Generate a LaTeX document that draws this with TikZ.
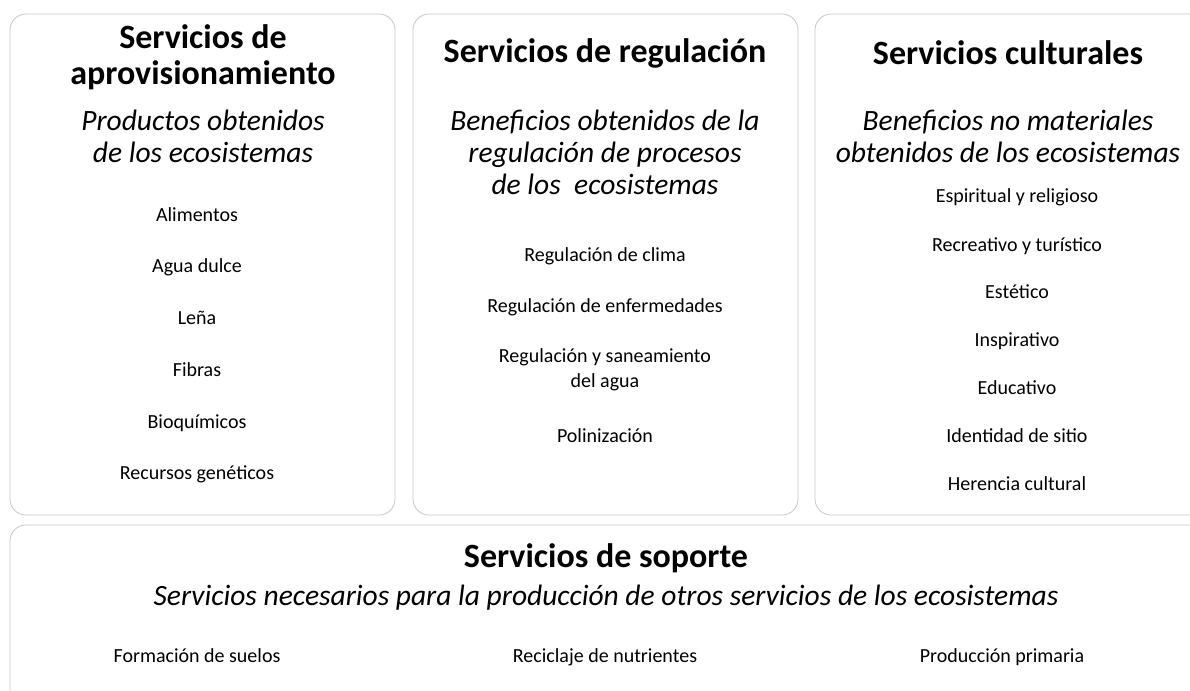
\documentclass[tikz,border=0pt]{standalone}
\usepackage{fontspec}
\setmainfont{Carlito}
\usetikzlibrary{positioning}

\begin{document}
\begin{tikzpicture}[
    x=1pt, y=-1pt,
    panel/.style={draw=black!22, line width=0.8pt, rounded corners=16pt},
    title/.style={font=\bfseries\fontsize{34}{36}\selectfont, align=center},
    subtitle/.style={font=\itshape\fontsize{29.5}{32}\selectfont, align=center},
    item/.style={font=\fontsize{20}{25}\selectfont, align=center, anchor=base},
    every node/.style={
        text centered,
        inner sep=0pt
        }
        ]
    \useasboundingbox (0, 0) rectangle (1190, 690);

    % panels
    \draw[panel] (10, 14) rectangle (395, 515);
    \draw[panel] (413, 14) rectangle (798, 515);
    \draw[panel] (815, 14) rectangle (1205, 515);
    \draw[panel] (10, 525) rectangle (1205, 720);

    % aprovisionamiento
    \node[title] (aproTitle) at (203, 57) {Servicios de\\aprovisionamiento};
    \node[subtitle] (aproSub) at (203, 136) {Productos obtenidos\\de los ecosistemas};
    \node[item] (alimentos) at (197, 221) {Alimentos};
    \node[item] (agua) at (197, 272) {Agua dulce};
    \node[item] (lena) at (197, 324) {Leña};
    \node[item] (fibras) at (197, 376) {Fibras};
    \node[item] (bioq) at (197, 428) {Bioquímicos};
    \node[item] (recursos) at (197, 479) {Recursos genéticos};

    % regulacion
    \node[title] (reguTitle) at (605, 53) {Servicios de regulación};
    \node[subtitle] (reguSub) at (605, 152) {Beneficios obtenidos de la\\regulación de procesos\\de los\ \ ecosistemas};
    \node[item] (clima) at (605, 261) {Regulación de clima};
    \node[item] (enfermedades) at (605, 312) {Regulación de enfermedades};
    \node[item, anchor=center] (saneamiento) at (605, 370) {Regulación y saneamiento\\del agua};
    \node[item] (polinizacion) at (605, 442) {Polinización};

    % culturales
    \node[title] (cultTitle) at (1008, 53) {Servicios culturales};
    \node[subtitle] (cultSub) at (1008, 136) {Beneficios no materiales\\obtenidos de los ecosistemas};
    \node[item] (espiritual) at (1017, 202) {Espiritual y religioso};
    \node[item] (recreativo) at (1017, 251) {Recreativo y turístico};
    \node[item] (estetico) at (1017, 298) {Estético};
    \node[item] (inspirativo) at (1017, 346) {Inspirativo};
    \node[item] (educativo) at (1017, 394) {Educativo};
    \node[item] (identidad) at (1017, 442) {Identidad de sitio};
    \node[item] (herencia) at (1017, 490) {Herencia cultural};

    % soporte
    \node[title] (soporTitle) at (606, 558) {Servicios de soporte};
    \node[subtitle] (soporSub) at (606, 598) {Servicios necesarios para la producción de otros servicios de los ecosistemas};
    \node[item] (suelos) at (197, 662) {Formación de suelos};
    \node[item] (nutrientes) at (605, 662) {Reciclaje de nutrientes};
    \node[item] (primaria) at (1002, 662) {Producción primaria};
\end{tikzpicture}
\end{document}
